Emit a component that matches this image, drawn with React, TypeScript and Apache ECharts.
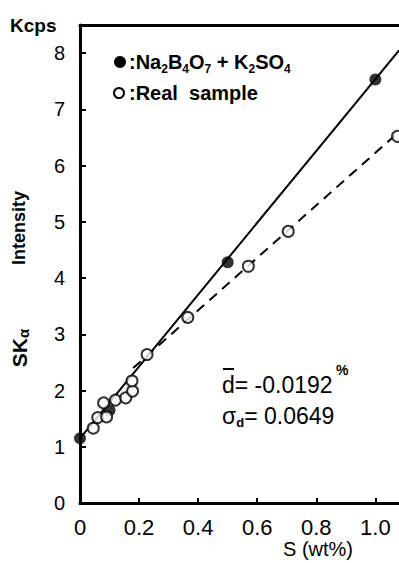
import React, { useEffect, useRef } from "react";
import * as echarts from "echarts";

// Standards: Na2B4O7 + K2SO4 (filled circles)
const stdX = [0, 0.1, 0.5, 1.0];
const stdY = [1.15, 1.65, 4.28, 7.53];
// Real samples (open circles)
const realX = [0.045, 0.06, 0.08, 0.09, 0.12, 0.155, 0.178, 0.176, 0.227, 0.365, 0.57, 0.705, 1.075];
const realY = [1.33, 1.52, 1.78, 1.53, 1.83, 1.87, 1.99, 2.17, 2.64, 3.3, 4.21, 4.83, 6.52];
// Calibration lines (end points)
const solidLineX = [0, 1.08];
const solidLineY = [1.15, 8.05];
const dashedLineX = [0.18, 1.08];
const dashedLineY = [2.4, 6.6];

const xTicks = ["0", "0.2", "0.4", "0.6", "0.8", "1.0"];

const FONT = "'Liberation Sans', Arial, sans-serif";

export default function App() {
  const ref = useRef<HTMLDivElement>(null);
  useEffect(() => {
    if (!ref.current) return;
    const chart = echarts.init(ref.current, null, { renderer: "svg" });
    const zip = (xs: number[], ys: number[]) => xs.map((x, i) => [x, ys[i]]);
    const sub = { fontSize: 12, fontFamily: FONT, fill: "#000", fontWeight: "bold", lineHeight: 26, verticalAlign: "bottom" };
    const main = { fontSize: 20, fontFamily: FONT, fill: "#000", fontWeight: "bold", lineHeight: 26, verticalAlign: "middle" };
    chart.setOption({
      animation: false,
      backgroundColor: "#fff",
      grid: { left: 80, top: 25, right: 0, bottom: 60, containLabel: false },
      xAxis: [
        {
          type: "value",
          min: 0,
          max: 1.08,
          interval: 0.2,
          axisLine: { show: true, lineStyle: { color: "#000", width: 3 } },
          axisTick: { show: true, inside: true, length: 5, lineStyle: { color: "#000", width: 2 } },
          axisLabel: {
            color: "#000",
            fontSize: 22,
            fontFamily: FONT,
            margin: 13,
            showMaxLabel: false,
            formatter: (v: number) => {
              const i = Math.round(v / 0.2);
              return Math.abs(v - i * 0.2) < 1e-6 && xTicks[i] ? xTicks[i] : "";
            },
          },
          splitLine: { show: false },
        },
        {
          type: "value",
          position: "top",
          min: 0,
          max: 1.08,
          axisLine: { show: true, lineStyle: { color: "#000", width: 3 } },
          axisTick: { show: false },
          axisLabel: { show: false },
          splitLine: { show: false },
        },
      ],
      yAxis: {
        type: "value",
        min: 0,
        max: 8.5,
        interval: 1,
        axisLine: { show: true, lineStyle: { color: "#000", width: 3 } },
        axisTick: { show: true, inside: true, length: 6, lineStyle: { color: "#000", width: 2 } },
        axisLabel: {
          color: "#000",
          fontSize: 20,
          fontFamily: FONT,
          margin: 15,
          showMaxLabel: false,
        },
        splitLine: { show: false },
      },
      series: [
        {
          type: "line",
          data: zip(solidLineX, solidLineY),
          showSymbol: false,
          lineStyle: { color: "#000", width: 2 },
          z: 2,
        },
        {
          type: "line",
          data: zip(dashedLineX, dashedLineY),
          showSymbol: false,
          lineStyle: { color: "#000", width: 2, type: [10, 7] },
          z: 2,
        },
        {
          type: "scatter",
          data: zip(stdX, stdY),
          symbol: "circle",
          symbolSize: 12,
          itemStyle: { color: "#000" },
          z: 4,
        },
        {
          type: "scatter",
          data: zip(realX, realY),
          symbol: "circle",
          symbolSize: 11,
          itemStyle: { color: "#fff", borderColor: "#000", borderWidth: 2 },
          z: 5,
        },
      ],
      graphic: [
        {
          type: "text",
          x: 10,
          y: 25,
          style: { text: "Kcps", fontSize: 19, fontFamily: FONT, fill: "#000", fontWeight: "bold", verticalAlign: "middle" },
        },
        {
          type: "text",
          x: 19,
          y: 228,
          rotation: Math.PI / 2,
          style: {
            text: "Intensity",
            fontSize: 18,
            fontFamily: FONT,
            fill: "#000",
            fontWeight: "bold",
            align: "center",
            verticalAlign: "middle",
          },
        },
        {
          type: "text",
          x: 19,
          y: 348,
          rotation: Math.PI / 2,
          style: {
            text: "{m|SK}{s|α}",
            align: "center",
            verticalAlign: "middle",
            rich: {
              m: { fontSize: 21, fontFamily: FONT, fill: "#000", fontWeight: "bold", lineHeight: 24, verticalAlign: "middle" },
              s: { fontSize: 15, fontFamily: FONT, fill: "#000", fontWeight: "bold", lineHeight: 24, verticalAlign: "bottom" },
            },
          },
        },
        {
          type: "text",
          x: 318,
          y: 549,
          style: {
            text: "S (wt%)",
            fontSize: 20,
            fontFamily: FONT,
            fill: "#000",
            align: "center",
            verticalAlign: "middle",
          },
        },
        { type: "circle", shape: { cx: 120, cy: 62, r: 6 }, style: { fill: "#000" } },
        {
          type: "text",
          x: 129,
          y: 62,
          style: {
            text: "{m|:Na}{s|2}{m|B}{s|4}{m|O}{s|7}{m| + K}{s|2}{m|SO}{s|4}",
            verticalAlign: "middle",
            rich: { m: main, s: sub },
          },
        },
        { type: "circle", shape: { cx: 119, cy: 93, r: 5 }, style: { fill: "#fff", stroke: "#000", lineWidth: 2 } },
        {
          type: "text",
          x: 129,
          y: 93,
          style: {
            text: ":Real  sample",
            fontSize: 20,
            fontFamily: FONT,
            fill: "#000",
            fontWeight: "bold",
            verticalAlign: "middle",
          },
        },
        {
          type: "line",
          shape: { x1: 223, y1: 369, x2: 234, y2: 369 },
          style: { stroke: "#000", lineWidth: 2 },
        },
        {
          type: "text",
          x: 222,
          y: 385,
          style: {
            text: "d= -0.0192",
            fontSize: 23,
            fontFamily: FONT,
            fill: "#000",
            verticalAlign: "middle",
          },
        },
        {
          type: "text",
          x: 336,
          y: 370,
          style: { text: "%", fontSize: 14, fontFamily: FONT, fill: "#000", fontWeight: "bold", verticalAlign: "middle" },
        },
        {
          type: "text",
          x: 222,
          y: 416,
          style: {
            text: "{a|σ}{s|d}{a|= 0.0649}",
            verticalAlign: "middle",
            rich: {
              a: { fontSize: 23, fontFamily: FONT, fill: "#000", lineHeight: 26, verticalAlign: "middle" },
              s: { fontSize: 13, fontFamily: FONT, fill: "#000", fontWeight: "bold", lineHeight: 26, verticalAlign: "bottom" },
            },
          },
        },
      ],
    });
    return () => chart.dispose();
  }, []);
  return (
    <div
      ref={ref}
      style={{ position: "absolute", left: 0, top: 0, width: 399, height: 563, background: "#fff" }}
    />
  );
}
